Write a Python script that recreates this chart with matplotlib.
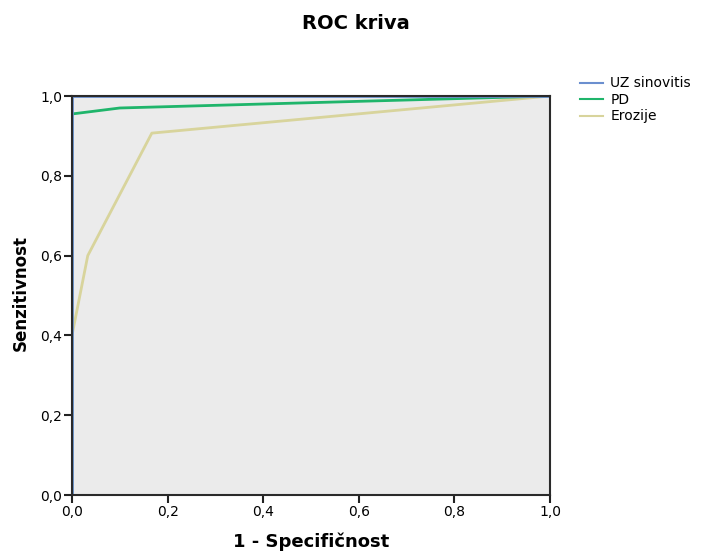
import matplotlib.pyplot as plt
from matplotlib.ticker import FuncFormatter

plt.rcParams['font.family'] = ['DejaVu Sans']

# ROC points (1 - specificity, sensitivity)
uz_x = [0.0, 0.0, 1.0]
uz_y = [0.0, 1.0, 1.0]
pd_x = [0.0, 0.0, 0.1, 1.0]
pd_y = [0.0, 0.955, 0.97, 1.0]
er_x = [0.0, 0.0, 0.033, 0.167, 1.0]
er_y = [0.0, 0.40, 0.60, 0.907, 1.0]

labels = ['UZ sinovitis', 'PD', 'Erozije']
colors = ['#6b8fcf', '#1fb56b', '#d8d49c']
ticks = [0.0, 0.2, 0.4, 0.6, 0.8, 1.0]

fig = plt.figure(figsize=(7.01, 5.56), dpi=100)
ax = fig.add_axes([0.1027, 0.1097, 0.6819, 0.7176])
ax.set_facecolor('#ebebeb')

# lines sit under the spines, so the blue curve mostly hides in the frame
ax.plot(er_x, er_y, color=colors[2], lw=2, label=labels[2], zorder=2.0)
ax.plot(pd_x, pd_y, color=colors[1], lw=2, label=labels[1], zorder=2.1)
ax.plot(uz_x, uz_y, color=colors[0], lw=2, label=labels[0], zorder=2.2)

ax.set_xlim(0, 1)
ax.set_ylim(0, 1)
ax.set_xticks(ticks)
ax.set_yticks(ticks)
comma = FuncFormatter(lambda v, p: f'{v:.1f}'.replace('.', ','))
ax.xaxis.set_major_formatter(comma)
ax.yaxis.set_major_formatter(comma)
ax.tick_params(direction='out', length=6, width=1.5, labelsize=10, color='#222222', pad=1)
for s in ax.spines.values():
    s.set_color('#2a2a2a')
    s.set_linewidth(1.5)
    s.set_zorder(3)

fig.text(0.4437, 0.025, '1 - Specifičnost', ha='center', va='center', fontsize=13, fontweight='bold')
fig.text(0.029, 0.473, 'Senzitivnost', ha='center', va='center', rotation=90,
         fontsize=12, fontweight='bold')
fig.text(0.508, 0.957, 'ROC kriva', ha='center', va='center', fontsize=14, fontweight='bold')

handles, labs = ax.get_legend_handles_labels()
order = [2, 1, 0]
leg = fig.legend([handles[i] for i in order], [labs[i] for i in order],
                 loc='upper left', bbox_to_anchor=(0.818, 0.875), frameon=False,
                 fontsize=10, handlelength=1.6, handletextpad=0.55, labelspacing=0.18,
                 borderpad=0)
for line in leg.get_lines():
    line.set_linewidth(1.5)

fig.savefig('out.png', dpi=100)
